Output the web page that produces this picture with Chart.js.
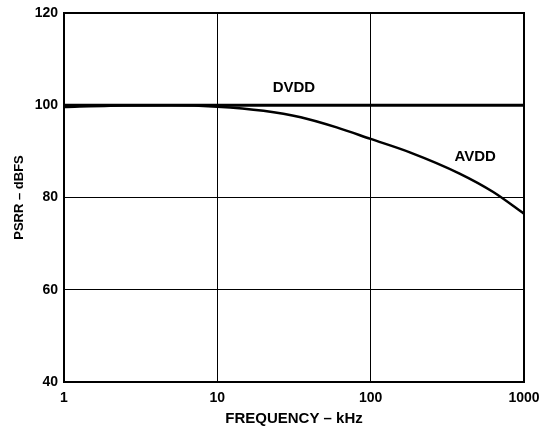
<!DOCTYPE html>
<html>
<head>
<meta charset="utf-8">
<script src="https://cdn.jsdelivr.net/npm/chart.js@4.4.1/dist/chart.umd.min.js"></script>
<style>
  html, body { margin: 0; padding: 0; background: #fff; }
  #wrap { width: 541px; height: 428px; }
</style>
</head>
<body>
<div id="wrap"><canvas id="psrr" width="541" height="428"></canvas></div>
<script>
'use strict';

// frequency in kHz
let freqAvdd = [1, 2, 5, 10, 20, 35, 60, 100, 180, 380, 630, 1000];
let psrrAvdd = [99.6, 99.9, 100, 99.7, 98.8, 97.4, 95.2, 92.7, 89.8, 85.2, 81.2, 76.5];
let freqDvdd = [1, 1000];
let psrrDvdd = [100, 100];
let xTicks = [1, 10, 100, 1000];

let font = 'Liberation Sans, Arial, sans-serif';

let labelPlugin = {
    id: 'curveLabels',
    afterDatasetsDraw: function(chart) {
        let ctx = chart.ctx;
        let x = chart.scales.x;
        let y = chart.scales.y;
        ctx.save();
        ctx.fillStyle = '#000';
        ctx.font = 'bold 15px ' + font;
        ctx.textAlign = 'center';
        ctx.textBaseline = 'middle';
        ctx.fillText('DVDD', x.getPixelForValue(31.6), y.getPixelForValue(103.7));
        ctx.fillText('AVDD', x.getPixelForValue(480), y.getPixelForValue(88.8));
        ctx.restore();
    }
};

let toPoints = function(xs, ys) {
    return xs.map(function(v, i) { return { x: v, y: ys[i] }; });
};

new Chart(document.getElementById('psrr'), {
    type: 'line',
    data: {
        datasets: [
            {
                label: 'DVDD',
                data: toPoints(freqDvdd, psrrDvdd),
                borderColor: '#000',
                borderWidth: 3,
                pointRadius: 0,
                tension: 0
            },
            {
                label: 'AVDD',
                data: toPoints(freqAvdd, psrrAvdd),
                borderColor: '#000',
                borderWidth: 2.5,
                pointRadius: 0,
                cubicInterpolationMode: 'monotone'
            }
        ]
    },
    options: {
        responsive: false,
        animation: false,
        layout: { padding: { top: 13, right: 17, left: 0, bottom: 0 } },
        plugins: {
            legend: { display: false },
            tooltip: { enabled: false }
        },
        scales: {
            x: {
                type: 'logarithmic',
                min: 1,
                max: 1000,
                afterBuildTicks: function(scale) {
                    scale.ticks = xTicks.map(function(v) { return { value: v }; });
                },
                afterFit: function(scale) {
                    scale.height = 46;
                    scale.paddingLeft = 0;
                    scale.paddingRight = 0;
                },
                grid: { color: '#000', lineWidth: 1, drawTicks: false },
                border: { color: '#000', width: 2 },
                ticks: {
                    color: '#000',
                    font: { family: font, size: 14, weight: 'bold' },
                    padding: 8,
                    maxRotation: 0,
                    callback: function(v) { return String(v); }
                },
                title: {
                    display: true,
                    text: 'FREQUENCY – kHz',
                    color: '#000',
                    font: { family: font, size: 15, weight: 'bold' },
                    padding: { top: 4, bottom: 0 }
                }
            },
            y: {
                min: 40,
                max: 120,
                afterFit: function(scale) {
                    scale.width = 64;
                    scale.paddingTop = 0;
                    scale.paddingBottom = 0;
                },
                grid: { color: '#000', lineWidth: 1, drawTicks: false },
                border: { color: '#000', width: 2 },
                ticks: {
                    stepSize: 20,
                    color: '#000',
                    font: { family: font, size: 14, weight: 'bold' },
                    padding: 6
                },
                title: {
                    display: true,
                    text: 'PSRR – dBFS',
                    color: '#000',
                    font: { family: font, size: 13, weight: 'bold' },
                    padding: { top: 12, bottom: 0 }
                }
            }
        }
    },
    plugins: [
        labelPlugin,
        {
            id: 'frame',
            afterDraw: function(chart) {
                let a = chart.chartArea;
                let ctx = chart.ctx;
                ctx.save();
                ctx.strokeStyle = '#000';
                ctx.lineWidth = 2;
                ctx.strokeRect(a.left, a.top, a.right - a.left, a.bottom - a.top);
                ctx.restore();
            }
        }
    ]
});
</script>
</body>
</html>
